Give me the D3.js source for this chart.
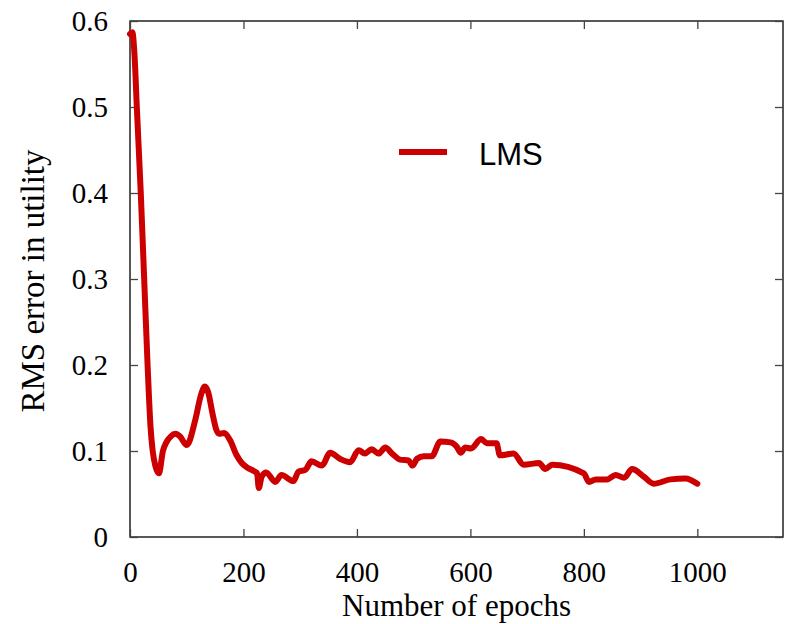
<!DOCTYPE html>
<html>
<head>
<meta charset="utf-8">
<script src="https://cdn.jsdelivr.net/npm/d3@7/dist/d3.min.js"></script>
<style>
  html, body { margin: 0; padding: 0; background: #fff; }
  svg { display: block; }
  .serif { font-family: "Liberation Serif", "Times New Roman", serif; }
</style>
</head>
<body>
<svg id="chart" width="786" height="624"></svg>
<script>
// Training curve: RMS error in utility estimates vs. number of epochs (LMS)
const epochs = [0, 4, 8, 12, 19, 25, 31, 36, 40, 45, 51, 58, 64, 72, 80, 88, 100, 115, 125, 132,
  138, 145, 152, 157, 166, 176, 188, 197, 206, 220, 224, 227, 232, 240, 256, 267, 288, 297, 309,
  320, 338, 353, 370, 388, 403, 414, 426, 438, 450, 462, 476, 491, 498, 506, 518, 532, 547, 565,
  576, 583, 591, 601, 619, 629, 646, 652, 676, 694, 721, 732, 744, 800, 809, 821, 841, 856, 871,
  885, 906, 923, 953, 979, 1000];
const rmsError = [0.585, 0.587, 0.56, 0.50, 0.40, 0.30, 0.20, 0.13, 0.10, 0.082, 0.074, 0.10, 0.110,
  0.117, 0.120, 0.117, 0.107, 0.136, 0.165, 0.175, 0.168, 0.145, 0.125, 0.120, 0.121, 0.113, 0.095,
  0.086, 0.081, 0.076, 0.074, 0.057, 0.070, 0.075, 0.064, 0.072, 0.065, 0.076, 0.078, 0.088, 0.083,
  0.098, 0.091, 0.087, 0.101, 0.097, 0.102, 0.097, 0.104, 0.097, 0.090, 0.089, 0.083, 0.091, 0.094,
  0.094, 0.111, 0.110, 0.105, 0.098, 0.104, 0.103, 0.114, 0.109, 0.109, 0.095, 0.097, 0.084, 0.086,
  0.079, 0.084, 0.074, 0.064, 0.067, 0.067, 0.072, 0.069, 0.079, 0.070, 0.062, 0.067, 0.068, 0.062];
const xTicks = [0, 200, 400, 600, 800, 1000];
const yTicks = [0, 0.1, 0.2, 0.3, 0.4, 0.5, 0.6];
const seriesName = "LMS";

const svg = d3.select("#chart");
const plotLeft = 130, plotRight = 783, plotTop = 21, plotBottom = 537;

const x = d3.scaleLinear().domain([0, 1151]).range([plotLeft, plotRight]);
const y = d3.scaleLinear().domain([0, 0.6]).range([plotBottom, plotTop]);

const serif = "'Liberation Serif', 'Times New Roman', serif";
const tickLen = 8;

// Frame
svg.append("rect")
  .attr("x", plotLeft).attr("y", plotTop)
  .attr("width", plotRight - plotLeft).attr("height", plotBottom - plotTop)
  .attr("fill", "none").attr("stroke", "#222").attr("stroke-width", 1.5);

// Bottom axis with inward ticks
const xAxis = d3.axisBottom(x).tickValues(xTicks).tickSizeInner(-tickLen).tickSizeOuter(0)
  .tickPadding(24).tickFormat(d3.format("d"));
const gx = svg.append("g").attr("transform", `translate(0,${plotBottom})`).call(xAxis);
gx.attr("font-family", null).attr("font-size", null).attr("class", "serif");
gx.select(".domain").remove();
gx.selectAll(".tick line").attr("stroke", "#444").attr("stroke-width", 1.3);
gx.selectAll(".tick text").style("font-family", serif).style("font-size", "29px").attr("fill", "#000");

// Top mirror ticks
const xTop = d3.axisTop(x).tickValues(xTicks).tickSizeInner(-tickLen).tickSizeOuter(0).tickFormat("");
const gxt = svg.append("g").attr("transform", `translate(0,${plotTop})`).call(xTop);
gxt.select(".domain").remove();
gxt.selectAll(".tick line").attr("stroke", "#444").attr("stroke-width", 1.3);

// Left axis
const yAxis = d3.axisLeft(y).tickValues(yTicks).tickSizeInner(-tickLen).tickSizeOuter(0)
  .tickPadding(22).tickFormat(d => d === 0 ? "0" : d3.format(".1f")(d));
const gy = svg.append("g").attr("transform", `translate(${plotLeft},0)`).call(yAxis);
gy.attr("font-family", null).attr("font-size", null).attr("class", "serif");
gy.select(".domain").remove();
gy.selectAll(".tick line").attr("stroke", "#444").attr("stroke-width", 1.3);
gy.selectAll(".tick text").style("font-family", serif).style("font-size", "29px").attr("fill", "#000");

// Right mirror ticks
const yRight = d3.axisRight(y).tickValues(yTicks).tickSizeInner(-tickLen).tickSizeOuter(0).tickFormat("");
const gyr = svg.append("g").attr("transform", `translate(${plotRight},0)`).call(yRight);
gyr.select(".domain").remove();
gyr.selectAll(".tick line").attr("stroke", "#444").attr("stroke-width", 1.3);

// Axis titles
svg.append("text")
  .attr("x", (plotLeft + plotRight) / 2).attr("y", 616)
  .attr("text-anchor", "middle")
  .style("font-family", serif).style("font-size", "31px")
  .text("Number of epochs");

svg.append("text")
  .attr("transform", `translate(44,${(plotTop + plotBottom) / 2 + 2}) rotate(-90)`)
  .attr("text-anchor", "middle")
  .style("font-family", serif).style("font-size", "33px")
  .text("RMS error in utility");

// Series line
const pts = epochs.map((e, i) => [e, rmsError[i]]);
const line = d3.line().x(d => x(d[0])).y(d => y(d[1])).curve(d3.curveMonotoneX);
svg.append("path")
  .datum(pts)
  .attr("d", line)
  .attr("fill", "none")
  .attr("stroke", "#cc0000")
  .attr("stroke-width", 6)
  .attr("stroke-linejoin", "round")
  .attr("stroke-linecap", "round");

// Legend
svg.append("line")
  .attr("x1", 399).attr("x2", 447).attr("y1", 152).attr("y2", 152)
  .attr("stroke", "#cc0000").attr("stroke-width", 6);
svg.append("text")
  .attr("x", 479).attr("y", 165)
  .style("font-family", "'Liberation Sans', Arial, sans-serif").style("font-size", "31px")
  .text(seriesName);
</script>
</body>
</html>
